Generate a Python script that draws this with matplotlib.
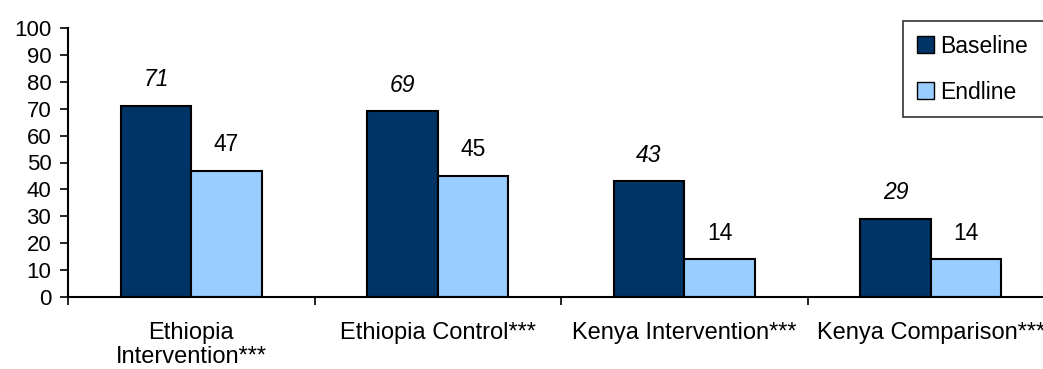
import matplotlib.pyplot as plt
import numpy as np
from matplotlib.patches import Patch

categories = ['Ethiopia\nIntervention***', 'Ethiopia Control***',
              'Kenya Intervention***', 'Kenya Comparison***']
baseline = [71, 69, 43, 29]
endline = [47, 45, 14, 14]

plt.rcParams['font.family'] = ['Liberation Sans', 'DejaVu Sans']
FS = 16.5

fig = plt.figure(figsize=(10.43, 3.69), dpi=100)
ax = fig.add_axes([68 / 1043, 72 / 369, 986 / 1043, 269 / 369])

x = np.arange(len(categories)) + 0.5
w = 0.286
ax.bar(x - w / 2, baseline, w, color='#003366', edgecolor='black', linewidth=1.5, label='Baseline')
ax.bar(x + w / 2, endline, w, color='#99CCFF', edgecolor='black', linewidth=1.5, label='Endline')

for xi, v in zip(x - w / 2, baseline):
    ax.text(xi, v + 9.7, str(v), ha='center', va='center', fontsize=FS, style='italic')
for xi, v in zip(x + w / 2, endline):
    ax.text(xi, v + 9.7, str(v), ha='center', va='center', fontsize=FS)

ax.set_ylim(0, 100)
ax.set_xlim(0, len(categories))
ax.set_yticks(range(0, 101, 10))
ax.tick_params(axis='y', labelsize=16, length=6, width=1.2, pad=6)

# ticks sit on the boundaries between groups, labels at group centres
ax.set_xticks(range(len(categories) + 1))
ax.set_xticklabels([])
ax.set_xticks(x, minor=True)
ax.set_xticklabels(categories, minor=True, fontsize=17, linespacing=1.1)
ax.tick_params(axis='x', which='major', length=6, width=1.2)
ax.tick_params(axis='x', which='minor', length=0, pad=18)

for s in ['top', 'right']:
    ax.spines[s].set_visible(False)
ax.spines['left'].set_linewidth(1.5)
ax.spines['bottom'].set_linewidth(1.5)

# legend box runs off the right edge of the canvas
handles = [Patch(facecolor='#003366', edgecolor='black', label='Baseline'),
           Patch(facecolor='#99CCFF', edgecolor='black', label='Endline')]
leg = fig.legend(handles=handles, loc='upper left',
                 bbox_to_anchor=(903 / 1043, 1 - 21 / 369, 160 / 1043, 0.0), mode='expand',
                 fontsize=FS, frameon=True, fancybox=False, handlelength=0.75, handleheight=0.75,
                 handletextpad=0.25, labelspacing=1.0, borderpad=0.6, borderaxespad=0)
leg.get_frame().set_edgecolor('black')
leg.get_frame().set_linewidth(1.2)

fig.savefig('out.png', dpi=100)
